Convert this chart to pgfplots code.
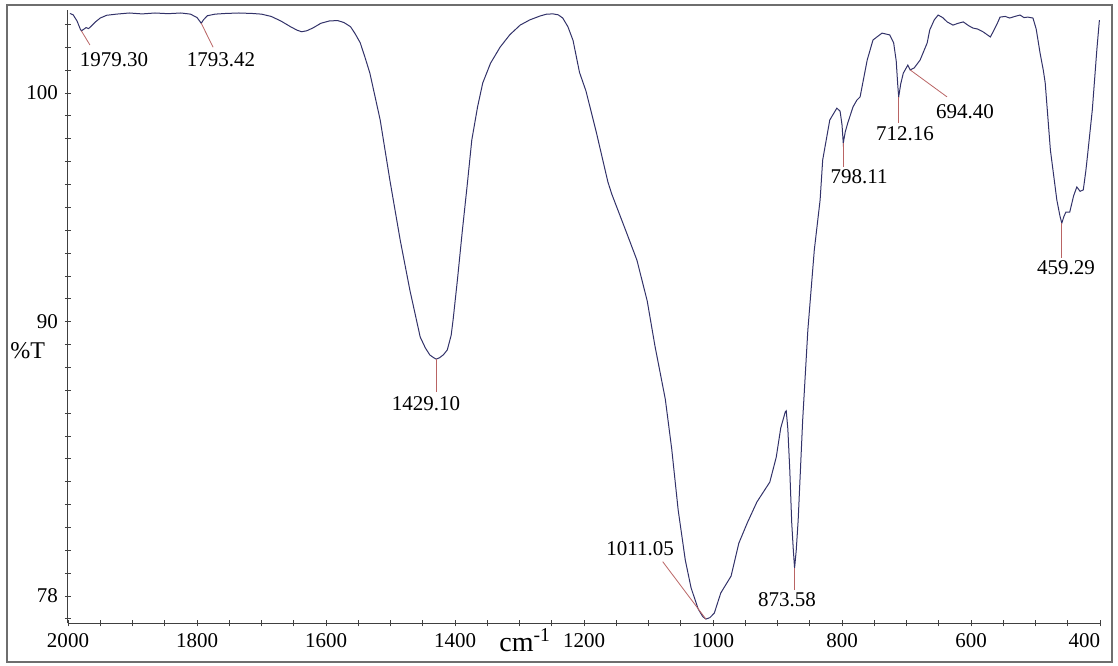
\documentclass[border=0pt]{standalone}
\usepackage{fontspec}
\setmainfont{Liberation Serif}
\usepackage{pgfplots}
\usepackage{pgfplotstable}
\pgfplotsset{compat=1.18}
\definecolor{spec}{RGB}{50,50,105}
\definecolor{ann}{RGB}{185,100,100}
\definecolor{framec}{RGB}{110,110,110}
\pgfplotstableread{
x y
1997 103.48
1992 103.42
1986 103.15
1981 102.8
1979.3 102.72
1976 102.78
1972 102.86
1968 102.82
1963 102.95
1957 103.12
1950 103.28
1940 103.4
1925 103.45
1905 103.5
1885 103.46
1865 103.5
1845 103.47
1825 103.5
1810 103.45
1800 103.3
1796 103.15
1793.42 103.05
1790 103.2
1784 103.38
1772 103.45
1755 103.48
1735 103.5
1715 103.48
1700 103.45
1685 103.35
1670 103.15
1655 102.9
1645 102.75
1638 102.68
1630 102.72
1620 102.85
1608 103.05
1595 103.15
1582 103.17
1572 103.08
1562 102.9
1555 102.6
1547 102.2
1540 101.6
1532 100.87
1516 98.82
1501 96.19
1485 93.57
1470 91.38
1454 89.33
1446 88.85
1439 88.54
1433 88.42
1429.1 88.36
1424 88.42
1418 88.55
1412 88.76
1406 89.4
1403 90.07
1396 91.9
1389 93.88
1381 96.0
1374 97.94
1365 99.4
1357 100.44
1345 101.3
1330 102.01
1315 102.55
1299 102.97
1284 103.2
1268 103.37
1258 103.45
1248 103.46
1240 103.42
1233 103.28
1225 102.9
1217 102.3
1207 100.9
1197 100.09
1181 98.29
1163 96.11
1157 95.58
1135 93.96
1118 92.69
1102 90.90
1090 88.93
1074 86.61
1064 84.42
1054 81.75
1043 79.57
1034 78.35
1023 77.43
1016 77.1
1011.05 76.99
1005 77.05
998 77.25
988 78.13
972 78.87
960 80.31
947 81.19
932 82.11
912 82.98
902 84.07
895 85.35
888 86.05
886.5 86.1
884 85.3
881 83.5
878 81.2
875.5 80.0
873.58 79.22
871 80.0
868 81.32
861 85.70
853 89.63
843 93.13
834 95.32
830 97.07
819 98.82
808 99.34
803 99.2
800 98.6
798.11 97.81
795 98.3
791 98.7
783 99.39
777 99.69
772 99.83
761 101.44
752 102.32
738 102.62
726 102.54
720 102.2
716 101.4
713.5 100.3
712.16 99.83
709 100.4
705 100.87
698 101.22
694.4 101.01
688 101.1
679 101.44
668 102.19
664 102.76
657 103.2
651 103.41
644 103.3
637 103.11
628 102.97
620 103.05
612 103.11
604 102.95
597 102.84
590 102.8
581 102.67
575 102.55
570 102.45
566 102.67
560 103.0
555 103.32
547 103.35
540 103.28
532 103.35
524 103.41
518 103.3
512 103.32
504 103.28
499 102.8
493 101.75
488 101.0
485 100.44
477 97.51
471 96.2
467 95.32
462 94.6
459.29 94.31
456 94.6
453 94.79
447 94.79
441 95.5
436 95.89
431 95.7
426 95.76
422 96.6
419 97.38
412 99.26
405 101.88
401 103.19
}\spectrum

\begin{document}
\begin{tikzpicture}
\begin{axis}[
  width=516pt, height=306.9pt, scale only axis,
  x dir=reverse,
  xmin=400, xmax=2000, ymin=76.8, ymax=103.65,
  axis x line*=bottom, axis y line*=left,
  axis line style={-, black!75, line width=0.5pt},
  xtick={400,600,800,1000,1200,1400,1600,1800,2000},
  xticklabels={\llap{400},600,800,1000,1200,1400,1600,1800,2000},
  minor xtick={450,500,550,650,700,750,850,900,950,1050,1100,1150,1250,1300,1350,1450,1500,1550,1650,1700,1750,1850,1900,1950},
  ytick={78,90,100},
  yticklabels={78,90,100},
  minor ytick={77,79,80,81,82,83,84,85,86,87,88,89,91,92,93,94,95,96,97,98,99,101,102,103},
  tick align=center,
  major tick length=3pt, minor tick length=3pt,
  tick style={black!75, line width=0.4pt},
  tick label style={font=\fontsize{10.5}{12}\selectfont},
  clip=false,
]
\addplot[spec, line width=0.5pt] table[x=x, y=y] {\spectrum};

\begin{scope}[every node/.style={font=\fontsize{10.5}{12}\selectfont, inner sep=0pt}]
\draw[ann, line width=0.4pt] (axis cs:1979.3,102.72) -- (axis cs:1966,102.1);
\node at (axis cs:1928.7,101.44) {1979.30};
\draw[ann, line width=0.4pt] (axis cs:1793.42,103.05) -- (axis cs:1775,102.0);
\node at (axis cs:1762.8,101.44) {1793.42};
\draw[ann, line width=0.4pt] (axis cs:1429.1,88.36) -- (axis cs:1429.1,86.92);
\node at (axis cs:1445,86.4) {1429.10};
\draw[ann, line width=0.4pt] (axis cs:1011.05,76.99) -- (axis cs:1078,79.5);
\node at (axis cs:1113,80.05) {1011.05};
\draw[ann, line width=0.4pt] (axis cs:873.58,79.22) -- (axis cs:873.58,78.26);
\node at (axis cs:885.3,77.82) {873.58};
\draw[ann, line width=0.4pt] (axis cs:798.11,97.81) -- (axis cs:798.11,96.76);
\node at (axis cs:773.6,96.33) {798.11};
\draw[ann, line width=0.4pt] (axis cs:712.16,99.83) -- (axis cs:712.16,98.69);
\node at (axis cs:702.3,98.21) {712.16};
\draw[ann, line width=0.4pt] (axis cs:694.4,101.01) -- (axis cs:637.2,99.83);
\node at (axis cs:609.3,99.17) {694.40};
\draw[ann, line width=0.4pt] (axis cs:459.29,94.31) -- (axis cs:459.29,92.78);
\node at (axis cs:452.7,92.34) {459.29};
\end{scope}

\node[font=\fontsize{12}{14}\selectfont, inner sep=0pt] at (axis description cs:-0.039,0.445) {\%T};
\node[font=\fontsize{14}{16}\selectfont, inner sep=0pt] at (axis description cs:0.443,-0.027) {cm\textsuperscript{-1}};

\draw[framec, line width=1pt] (axis description cs:-0.0591,-0.0629) rectangle (axis description cs:1.0116,1.0075);
\path (axis description cs:-0.0659,-0.0694) rectangle (axis description cs:1.0174,1.0156);
\end{axis}
\end{tikzpicture}
\end{document}
